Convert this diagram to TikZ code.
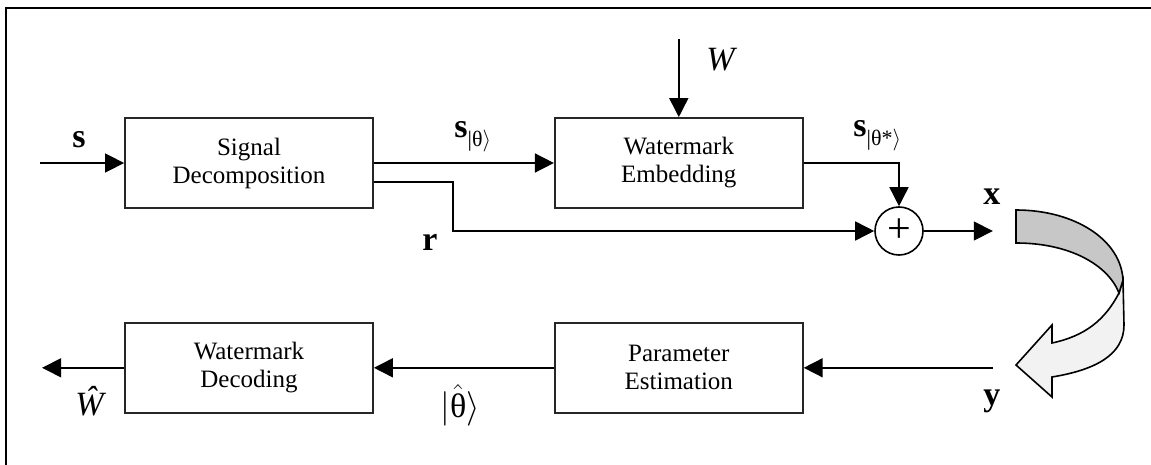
\documentclass[tikz,border=0pt]{standalone}
\usepackage{amsmath}
\usepackage{fontspec}
\setmainfont{Liberation Serif}
\usepackage{tikz}
\usetikzlibrary{arrows.meta,positioning,calc}
\definecolor{ribbondark}{rgb}{.78,.78,.78}
\definecolor{ribbonlight}{rgb}{.95,.95,.95}
\newcommand{\subsig}[1]{\raisebox{-4.5pt}{\fontsize{11}{11}\selectfont #1}}

\begin{document}
\begin{tikzpicture}[x=0.5pt,y=-0.5pt,% one unit is one pixel of the original figure
		every node/.style={
			align=center		% so that "\\" breaks the line
		},
		block/.style={rectangle,draw=black!85,line width=0.9pt,minimum width=124pt,minimum height=45pt,font=\fontsize{12.5}{14}\selectfont},
		sumnode/.style={circle,draw,line width=0.8pt,minimum size=24pt,inner sep=0pt,font=\fontsize{21}{21}\selectfont},
		lbl/.style={inner sep=0pt,anchor=base west,font=\fontsize{17}{17}\selectfont},
		sig/.style={draw,line width=0.8pt,-{Triangle[length=9.5pt,width=9.5pt]}},
		every edge/.style={sig}
	]
	\useasboundingbox (0,0) rectangle (1151,465);
	\draw[line width=1pt] (6,465) |- (1151,8);

	% blocks
	\node[block](dec) at (249,163) {Signal\\Decomposition};
	\node[block](emb)[right=90pt of dec]{Watermark\\Embedding};
	\node[block](dcd)[below=56.5pt of dec]{Watermark\\Decoding};
	\node[block](est)[below=56.5pt of emb]{Parameter\\Estimation};
	\node[sumnode](add) at (899,231) {+};

	% free ends
	\coordinate[left=42pt of dec.west](sin);
	\coordinate[above=39pt of emb.north](win);
	\coordinate[right=34.5pt of add.east](xout);
	\coordinate[right=94.5pt of est.east](yin);
	\coordinate[left=41pt of dcd.west](wout);

	\path
	(sin) edge (dec)
	(win) edge (emb)
	(dec) edge (emb)
	(add) edge (xout)
	(yin) edge (est)
	(est) edge (dcd)
	(dcd) edge (wout)
	;
	\draw[sig] (emb.east) -| (add.north);
	\draw[sig] ([yshift=-9.5pt]dec.east) -- ++(39.5pt,0) |- (add.west);

	% labels
	\node[lbl](ls) at (72,148) {\textbf{s}};
	\node[lbl](lst) at (454,138) {\textbf{s}\subsig{|θ$\rangle$}};
	\node[lbl](lsts) at (853,137) {\textbf{s}\subsig{|θ*$\rangle$}};
	\node[lbl](lw) at (706,71) {\textit{W}};
	\node[lbl](lx) at (983,204) {\textbf{x}};
	\node[lbl](lr) at (422,250) {\textbf{r}};
	\node[lbl](ly) at (983,405) {\textbf{y}};
	\node[lbl](lwh) at (75,415) {\textit{Ŵ}};
	\node[lbl](lth) at (440,417) {$|\hat{\text{θ}}\rangle$};

	% channel ribbon
	\draw[line width=0.8pt,fill=ribbonlight]
		(1119,293) .. controls (1105,320) and (1085,336) .. (1052,343)
		-- (1052,325) -- (1016,365) -- (1052,397) -- (1052,377)
		.. controls (1095,370) and (1124,355) .. (1124,325) -- (1123,280) -- cycle;
	\draw[line width=0.8pt,fill=ribbondark]
		(1016,210) .. controls (1075,210) and (1121,240) .. (1123,280)
		-- (1119,293) .. controls (1108,265) and (1070,243) .. (1016,243) -- cycle;
\end{tikzpicture}
\end{document}
